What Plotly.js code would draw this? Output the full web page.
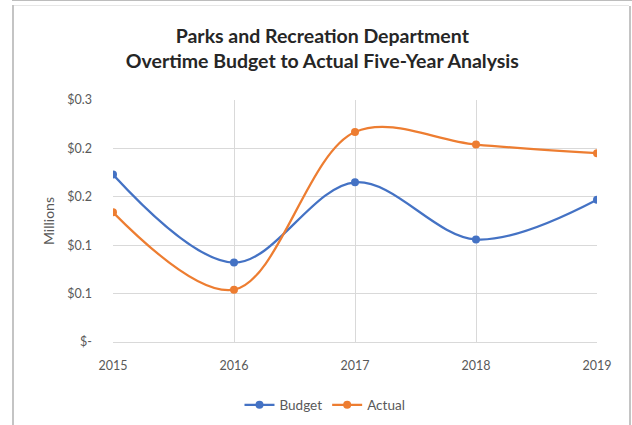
<!DOCTYPE html>
<html>
<head>
<meta charset="utf-8">
<script src="https://cdn.plot.ly/plotly-3.0.1.min.js"></script>
<style>
  html, body { margin: 0; padding: 0; background: #fff; }
  #wrap { position: relative; width: 632px; height: 425px; overflow: hidden; }
  #chart { position: absolute; left: 0; top: 0; width: 632px; height: 425px; }
  .ln { position: absolute; pointer-events: none; background: #c4c4c4; }
</style>
</head>
<body>
<div id="wrap">
  <div id="chart"></div>
  <div class="ln" style="left:12px; top:0; width:620px; height:1px; background:#bdbdbd;"></div>
  <div class="ln" style="left:12px; top:5px; width:2px; height:420px;"></div>
  <div class="ln" style="left:14px; top:5px; width:615px; height:1px; background:#e6e6e6;"></div>
  <div class="ln" style="left:629px; top:6px; width:2px; height:419px;"></div>
</div>
<script>
const years = ['2015', '2016', '2017', '2018', '2019'];
const budget = [0.173, 0.082, 0.165, 0.106, 0.147];
const actual = [0.134, 0.054, 0.217, 0.204, 0.195];
const yTickVals = [0, 0.05, 0.10, 0.15, 0.20, 0.25];
const yTickText = ['$-', '$0.1', '$0.1', '$0.2', '$0.2', '$0.3'];

const FONT = 'Lato, "Open Sans", sans-serif';

const traces = [
  {
    x: years, y: budget, name: 'Budget', type: 'scatter', mode: 'lines+markers',
    line: { color: '#4472C4', width: 2.25, shape: 'spline', smoothing: 1 },
    marker: { color: '#4472C4', size: 8, symbol: 'circle' }
  },
  {
    x: years, y: actual, name: 'Actual', type: 'scatter', mode: 'lines+markers',
    line: { color: '#ED7D31', width: 2.25, shape: 'spline', smoothing: 1 },
    marker: { color: '#ED7D31', size: 8, symbol: 'circle' }
  }
];

const layout = {
  width: 632, height: 425,
  paper_bgcolor: 'rgba(0,0,0,0)', plot_bgcolor: '#fff',
  margin: { l: 113, r: 35, t: 100, b: 83, autoexpand: false },
  font: { family: FONT, color: '#595959', size: 12 },
  title: {
    text: 'Parks and Recreation Department<br>Overtime Budget to Actual Five-Year Analysis',
    font: { family: FONT, size: 19.5, color: '#262626', weight: 'bold' },
    x: 0.51, xanchor: 'center', y: 0.9, yanchor: 'middle'
  },
  xaxis: {
    type: 'category', range: [0, 4], automargin: false,
    showgrid: true, gridcolor: '#d9d9d9', gridwidth: 1,
    showline: true, linecolor: '#d9d9d9', linewidth: 1,
    ticks: '', ticklabelstandoff: 12,
    tickfont: { family: FONT, size: 12.5, color: '#595959' },
    zeroline: false, fixedrange: true
  },
  yaxis: {
    range: [0, 0.25], automargin: false,
    tickvals: yTickVals, ticktext: yTickText,
    showgrid: true, gridcolor: '#d9d9d9', gridwidth: 1,
    showline: false, zeroline: false, ticks: '', ticklabelstandoff: 20,
    tickfont: { family: FONT, size: 12.5, color: '#595959' },
    title: { text: 'Millions', font: { family: FONT, size: 14, color: '#595959' }, standoff: 9 },
    fixedrange: true
  },
  showlegend: true,
  legend: {
    orientation: 'h', x: 0.438, xanchor: 'center',
    yref: 'container', y: 0.047, yanchor: 'middle',
    font: { family: FONT, size: 13.5, color: '#595959' },
    itemwidth: 30, tracegroupgap: 0
  }
};

Plotly.newPlot('chart', traces, layout, { staticPlot: true, displayModeBar: false });
</script>
</body>
</html>
